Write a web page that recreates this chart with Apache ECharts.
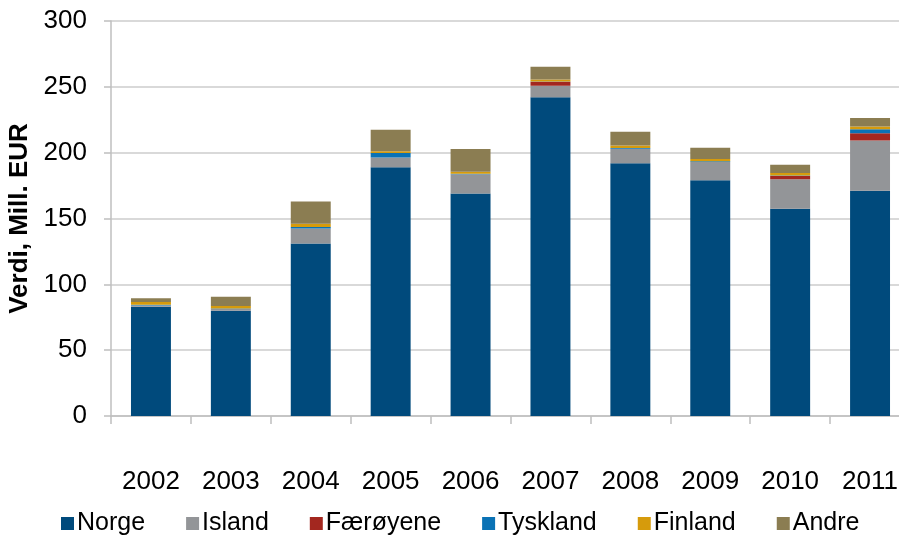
<!DOCTYPE html>
<html>
<head>
<meta charset="utf-8">
<title>Verdi, Mill. EUR</title>
<script src="https://cdn.jsdelivr.net/npm/echarts@6/dist/echarts.min.js"></script>
<style>
  html, body { margin: 0; padding: 0; background: #fff; }
  #chart { width: 899px; height: 537px; }
</style>
</head>
<body>
<div id="chart"></div>
<script>
// data (Mill. EUR)
const years = ['2002', '2003', '2004', '2005', '2006', '2007', '2008', '2009', '2010', '2011']
const norge = [83, 80, 131, 189, 169, 242, 192, 179, 157.5, 171]
const island = [1, 1.3, 11.5, 7.3, 14.6, 8.8, 11, 14, 22.3, 38.2]
const faeroyene = [0, 0, 0, 0, 0, 3, 0, 0, 2.5, 5.6]
const tyskland = [0.5, 0.3, 1, 3.5, 0.3, 0.3, 0.5, 0.5, 0.3, 3]
const finland = [2, 2, 2.5, 1.2, 1.7, 1.5, 2, 1.7, 2, 2]
const andre = [3, 7, 17, 16.4, 17.2, 9.6, 10.4, 8.6, 6.3, 6.6]

const font = '"Liberation Sans", Arial, sans-serif'

const chart = echarts.init(document.getElementById('chart'))

function stackSeries(name, data, color) {
  return {
    name: name,
    type: 'bar',
    stack: 'total',
    barWidth: '50%',
    data: data,
    itemStyle: { color: color }
  }
}

chart.setOption({
  animation: false,
  grid: {
    top: 21,
    left: 111,
    right: -11,
    bottom: 121,
    containLabel: false,
    outerBoundsMode: 'none'
  },
  legend: {
    top: 506,
    left: 56,
    itemWidth: 13,
    itemHeight: 13,
    itemGap: 41,
    icon: 'rect',
    textStyle: {
      fontFamily: font,
      fontSize: 25,
      color: '#000',
      padding: [0, 0, 0, -2]
    },
    data: ['Norge', 'Island', 'Færøyene', 'Tyskland', 'Finland', 'Andre']
  },
  xAxis: {
    type: 'category',
    data: years,
    axisLine: { lineStyle: { color: '#bfbfbf', width: 1.5 } },
    axisTick: { show: true, length: 8, lineStyle: { color: '#bfbfbf', width: 1.5 } },
    axisLabel: {
      margin: 53,
      fontFamily: font,
      fontSize: 26,
      color: '#000'
    }
  },
  yAxis: {
    type: 'value',
    min: 0,
    max: 300,
    interval: 50,
    name: 'Verdi, Mill. EUR',
    nameLocation: 'middle',
    nameGap: 73,
    nameTextStyle: {
      fontFamily: font,
      fontSize: 26,
      fontWeight: 'bold',
      color: '#000'
    },
    axisLine: { show: true, lineStyle: { color: '#bfbfbf', width: 1.5 } },
    axisTick: { show: true, length: 7, lineStyle: { color: '#bfbfbf', width: 1.5 } },
    axisLabel: {
      margin: 24,
      fontFamily: font,
      fontSize: 26,
      color: '#000'
    },
    splitLine: { lineStyle: { color: '#d9d9d9', width: 2 } }
  },
  series: [
    stackSeries('Norge', norge, '#004a7c'),
    stackSeries('Island', island, '#939598'),
    stackSeries('Færøyene', faeroyene, '#a3271f'),
    stackSeries('Tyskland', tyskland, '#0a72b5'),
    stackSeries('Finland', finland, '#d69b0c'),
    stackSeries('Andre', andre, '#8b7d52')
  ]
})
</script>
</body>
</html>
